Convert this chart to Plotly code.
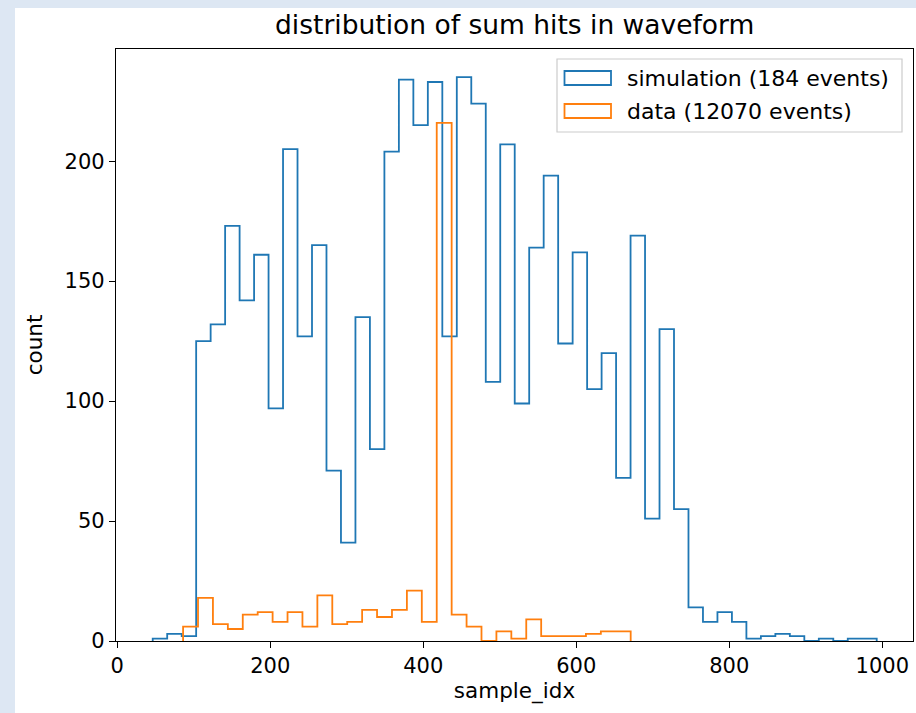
import numpy as np
import plotly.graph_objects as go

# ---------------- data ----------------
title_text = "distribution of sum hits in waveform"
x_title = "sample_idx"
y_title = "count"

sim_label = "simulation (184 events)"
data_label = "data (12070 events)"

# simulation histogram: 50 equal bins between sim_range
sim_range = (46.3, 992.7)
sim_counts = [1, 3, 2, 125, 132, 173, 142, 161, 97, 205,
              127, 165, 71, 41, 135, 80, 204, 234, 215, 233,
              127, 235, 224, 108, 207, 99, 164, 194, 124, 162,
              105, 120, 68, 169, 51, 130, 55, 14, 8, 12,
              8, 1, 2, 3, 2, 0, 1, 0, 1, 1]

# data histogram: 30 equal bins between data_range
data_range = (86.0, 671.1)
data_counts = [6, 18, 7, 5, 11, 12, 8, 12, 6, 19,
               7, 8, 13, 10, 13, 21, 8, 216, 11, 6,
               0, 4, 1, 9, 2, 2, 2, 3, 4, 4]

x_ticks = [0, 200, 400, 600, 800, 1000]
y_ticks = [0, 50, 100, 150, 200]

# ---------------- styling ----------------
FONT = "DejaVu Sans"
BLUE = "#1f77b4"
ORANGE = "#ff7f0e"
W_FIG, H_FIG = 916, 713
L, R, T, B = 116, 3, 49, 72
PW, PH = W_FIG - L - R, H_FIG - T - B


def px_x(px):
    return (px - L) / PW


def px_y(py):
    return (T + PH - py) / PH


def step_xy(counts, rng):
    edges = np.linspace(rng[0], rng[1], len(counts) + 1)
    x = np.concatenate([[edges[0]], edges])
    y = np.concatenate([[0], np.asarray(counts, float), [0]])
    return x, y


fig = go.Figure()
for counts, rng, color, name in [(sim_counts, sim_range, BLUE, sim_label),
                                 (data_counts, data_range, ORANGE, data_label)]:
    x, y = step_xy(counts, rng)
    fig.add_trace(go.Scatter(x=x, y=y, mode="lines", line_shape="hv",
                             line=dict(color=color, width=1.8), name=name,
                             showlegend=False, hoverinfo="skip"))

x_lo = -(117.3 - L) / 0.765
x_hi = x_lo + PW / 0.765
y_hi = max(sim_counts) * 1.05

axis_common = dict(showline=True, linecolor="black", linewidth=1.3, mirror=True,
                   ticks="outside", ticklen=6, tickwidth=1.3, tickcolor="black",
                   showgrid=False, zeroline=False,
                   tickfont=dict(family=FONT, size=21, color="black"))

fig.update_xaxes(range=[x_lo, x_hi], tickvals=x_ticks,
                 title=dict(text=x_title, font=dict(family=FONT, size=21.5, color="black"), standoff=4),
                 **axis_common)
fig.update_yaxes(range=[0, y_hi], tickvals=y_ticks,
                 title=dict(text=y_title, font=dict(family=FONT, size=21.5, color="black"), standoff=16),
                 **axis_common)

shapes = [
    # page background: white figure area with light-blue strips at left/top
    dict(type="rect", xref="paper", yref="paper", layer="below",
         x0=px_x(15), x1=px_x(W_FIG + 5), y0=px_y(H_FIG + 5), y1=px_y(8),
         fillcolor="white", line=dict(width=0)),
    # legend frame
    dict(type="rect", xref="paper", yref="paper",
         x0=px_x(557), x1=px_x(902), y0=px_y(132), y1=px_y(59),
         fillcolor="rgba(255,255,255,0.8)", line=dict(color="#cccccc", width=1.2)),
    # legend handles
    dict(type="rect", xref="paper", yref="paper",
         x0=px_x(564.5), x1=px_x(611), y0=px_y(85), y1=px_y(71),
         fillcolor="rgba(0,0,0,0)", line=dict(color=BLUE, width=1.8)),
    dict(type="rect", xref="paper", yref="paper",
         x0=px_x(564.5), x1=px_x(611), y0=px_y(118), y1=px_y(104),
         fillcolor="rgba(0,0,0,0)", line=dict(color=ORANGE, width=1.8)),
]

annotations = [
    dict(text=title_text, xref="paper", yref="paper", x=0.5, y=px_y(25),
         xanchor="center", yanchor="middle", showarrow=False,
         font=dict(family=FONT, size=26.5, color="black")),
    dict(text=sim_label, xref="paper", yref="paper", x=px_x(625), y=px_y(78),
         xanchor="left", yanchor="middle", showarrow=False,
         font=dict(family=FONT, size=22, color="black")),
    dict(text=data_label, xref="paper", yref="paper", x=px_x(625), y=px_y(111),
         xanchor="left", yanchor="middle", showarrow=False,
         font=dict(family=FONT, size=22, color="black")),
]

fig.update_layout(width=W_FIG, height=H_FIG,
                  margin=dict(l=L, r=R, t=T, b=B, autoexpand=False),
                  paper_bgcolor="#dde7f3", plot_bgcolor="white",
                  font=dict(family=FONT, color="black"),
                  shapes=shapes, annotations=annotations, showlegend=False)

fig.write_html("out.html", config={"displayModeBar": False},
               post_script="document.body.style.margin='0px';document.body.style.overflow='hidden';")
